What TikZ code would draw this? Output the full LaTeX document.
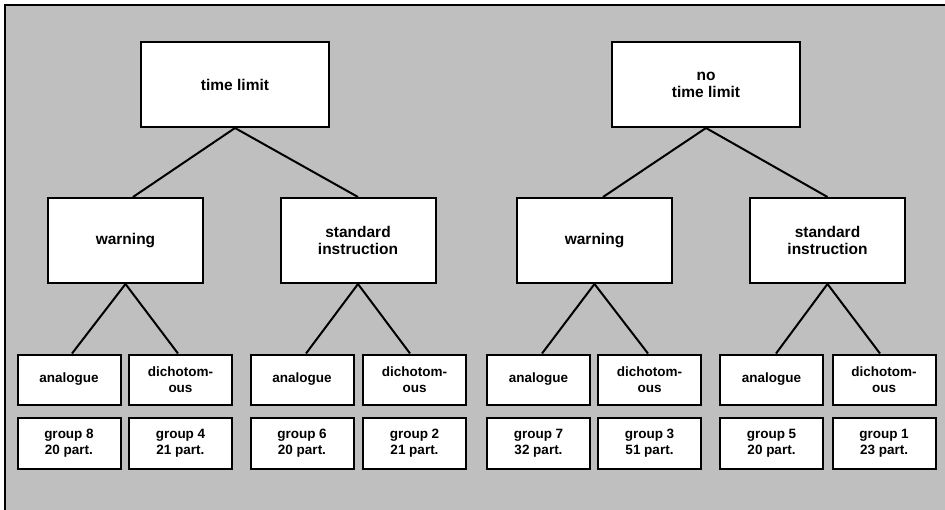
\documentclass[tikz,border=0pt]{standalone}
\usepackage{fontspec}
\setmainfont{Liberation Sans}
\begin{document}
\begin{tikzpicture}[x=1pt,y=-1pt,line width=2pt,
    every node/.style={font=\bfseries\fontsize{15.5}{17}\selectfont, align=center},
    bigbox/.style={draw, fill=white, minimum width=188pt, minimum height=85pt},
    midbox/.style={draw, fill=white, minimum width=155pt, minimum height=85pt},
    smallbox/.style={draw, fill=white, minimum width=103pt, minimum height=50pt,
        font=\bfseries\fontsize{13.5}{16}\selectfont},
    groupbox/.style={smallbox, minimum height=51pt}]
    \useasboundingbox (0,0) rectangle (945,509);
    \clip (0,0) rectangle (945,509);
    \filldraw[fill=black!25, line width=2.2pt] (5,5) rectangle (960,530);

    % first level
    \node[bigbox] (tl) at (235,84.5) {time limit};
    \node[bigbox] (ntl) at (706,84.5) {no\\time limit};

    % second level
    \node[midbox] (warnA) at (125.5,240.5) {warning};
    \node[midbox] (stdA) at (358,240.5) {standard\\instruction};
    \node[midbox] (warnB) at (594.5,240.5) {warning};
    \node[midbox] (stdB) at (827.5,240.5) {standard\\instruction};

    % answer format and groups
    \foreach \x/\n/\g/\p [count=\i] in {69/8/anaA1/20, 180.5/4/dicA1/21,
        302/6/anaA2/20, 414.5/2/dicA2/21, 538.5/7/anaB1/32, 649.5/3/dicB1/51,
        771.5/5/anaB2/20, 884/1/dicB2/23} {
        \ifodd\i
          \node[smallbox] (\g) at (\x,379.5) {analogue};
        \else
          \node[smallbox] (\g) at (\x,379.5) {dichotom-\\ous};
        \fi
        \node[groupbox] (grp\n) at (\x,443.5) {group \n\\\p{} part.};
    }

    \draw (tl.south) -- ([xshift=7.5pt]warnA.north);
    \draw (tl.south) -- (stdA.north);
    \draw (ntl.south) -- ([xshift=8.5pt]warnB.north);
    \draw (ntl.south) -- (stdB.north);

    \draw (warnA.south) -- ([xshift=3pt]anaA1.north);
    \draw (warnA.south) -- ([xshift=-2.5pt]dicA1.north);
    \draw (stdA.south) -- ([xshift=4pt]anaA2.north);
    \draw (stdA.south) -- ([xshift=-4.5pt]dicA2.north);
    \draw (warnB.south) -- ([xshift=3.5pt]anaB1.north);
    \draw (warnB.south) -- ([xshift=-1.5pt]dicB1.north);
    \draw (stdB.south) -- ([xshift=4.5pt]anaB2.north);
    \draw (stdB.south) -- ([xshift=-4pt]dicB2.north);
\end{tikzpicture}
\end{document}
